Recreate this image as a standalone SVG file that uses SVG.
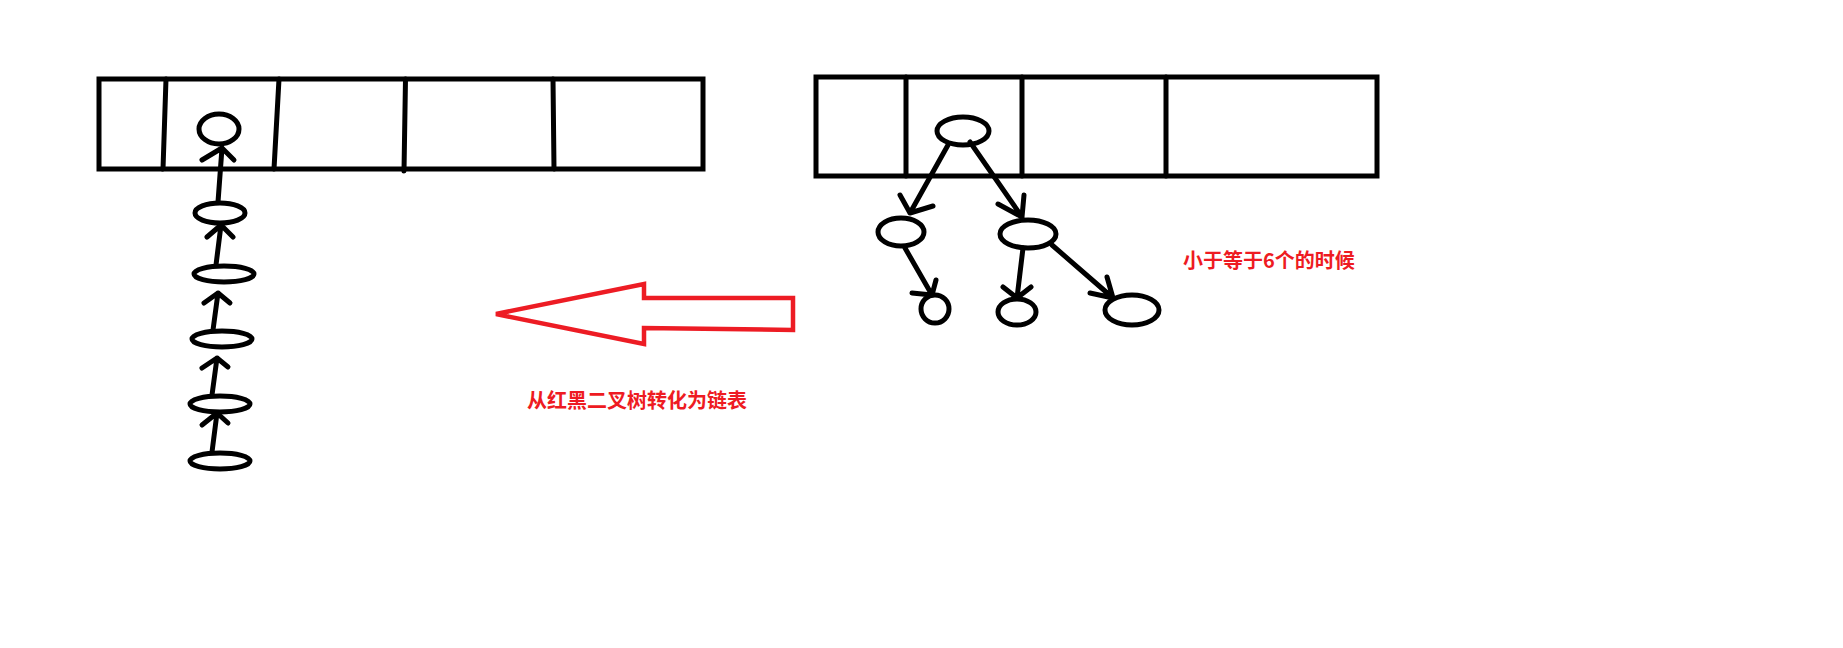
<svg xmlns="http://www.w3.org/2000/svg" width="1843" height="648" viewBox="0 0 1843 648">
<style>
.k{fill:none;stroke:#000;stroke-width:5;stroke-linecap:round;stroke-linejoin:round}
.r{fill:none;stroke:#ed1c24;stroke-width:4.5;stroke-linejoin:miter}
.t{font-family:"Microsoft YaHei","Noto Sans CJK SC",sans-serif;font-weight:bold;font-size:20px;fill:#ee1b22}
</style>
<rect width="1843" height="648" fill="#fff"/>
<g id="left-table">
<rect class="k" x="99" y="79" width="604" height="90" style="stroke-linecap:butt;stroke-linejoin:miter"/>
<line class="k" x1="166" y1="79" x2="163" y2="169"/>
<line class="k" x1="279" y1="79" x2="274" y2="169"/>
<line class="k" x1="405.5" y1="79" x2="404" y2="171"/>
<line class="k" x1="553" y1="79" x2="554" y2="169"/>
</g>
<g id="right-table">
<rect class="k" x="816" y="77" width="561" height="99" style="stroke-linecap:butt;stroke-linejoin:miter"/>
<line class="k" x1="906" y1="77" x2="906" y2="176"/>
<line class="k" x1="1022" y1="77" x2="1022" y2="176"/>
<line class="k" x1="1166" y1="77" x2="1166" y2="176"/>
</g>
<g id="list-head"><ellipse class="k" cx="219" cy="129" rx="20" ry="15"/></g>
<g id="list-1"><ellipse class="k" cx="220" cy="213" rx="25" ry="10"/></g>
<g id="list-2"><ellipse class="k" cx="224" cy="274" rx="30" ry="8"/></g>
<g id="list-3"><ellipse class="k" cx="222" cy="339" rx="30" ry="8"/></g>
<g id="list-4"><ellipse class="k" cx="220" cy="404" rx="30" ry="8"/></g>
<g id="list-5"><ellipse class="k" cx="220" cy="461" rx="30" ry="8"/></g>
<g id="tree-root"><ellipse class="k" cx="963" cy="131" rx="26" ry="14"/></g>
<g id="tree-left"><ellipse class="k" cx="901" cy="232" rx="23" ry="14"/></g>
<g id="tree-right"><ellipse class="k" cx="1028" cy="234" rx="28" ry="14"/></g>
<g id="tree-ll"><ellipse class="k" cx="935" cy="309" rx="14" ry="14"/></g>
<g id="tree-rl"><ellipse class="k" cx="1017" cy="312" rx="19" ry="13"/></g>
<g id="tree-rr"><ellipse class="k" cx="1132" cy="310" rx="27" ry="15"/></g>
<g id="connectors">
<path class="k" d="M218 202L222 148M202 160L222 148L234 160"/>
<path class="k" d="M216 265L221 225M207 237L221 225L233 237"/>
<path class="k" d="M213 330L218 293M204 303L218 293L230 303"/>
<path class="k" d="M212 395L217 358M202 368L217 358L228 367"/>
<path class="k" d="M212 452L217 413M202 425L217 413L228 423"/>
<path class="k" d="M948 145L910 213M900 195L910 213L933 206"/>
<path class="k" d="M970 142L1022 217M998 204L1022 217L1024 195"/>
<path class="k" d="M905 248L932 295M912 293L932 295L936 280"/>
<path class="k" d="M1023 248L1017 298M1003 287L1017 298L1031 287"/>
<path class="k" d="M1052 245L1113 298M1090 293L1113 298L1107 277"/>
</g>
<g id="big-arrow">
<polygon class="r" points="496,314 644,284 644,298 793,298 793,330 644,328 644,344"/>
</g>
<text class="t" x="1183" y="268">小于等于6个的时候</text>
<text class="t" x="527" y="408">从红黑二叉树转化为链表</text>
</svg>
